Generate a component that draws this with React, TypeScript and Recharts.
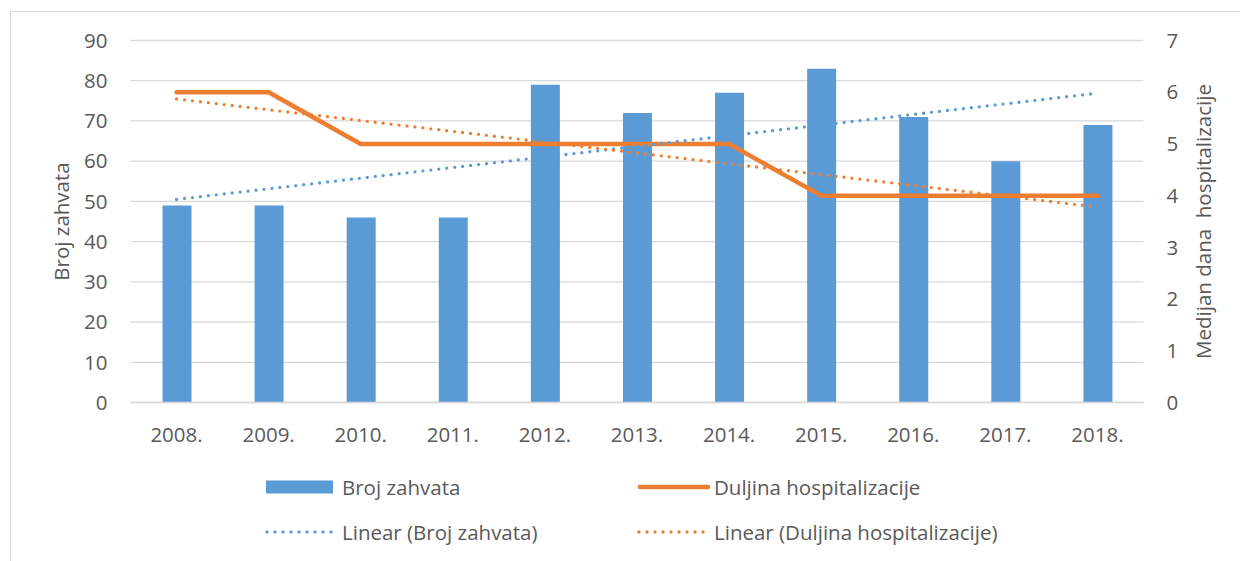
import React from 'react';
import { ComposedChart, Bar, Line, XAxis, YAxis, CartesianGrid, Label } from 'recharts';

// values
const years = ['2008.', '2009.', '2010.', '2011.', '2012.', '2013.', '2014.', '2015.', '2016.', '2017.', '2018.'];
const brojZahvata = [49, 49, 46, 46, 79, 72, 77, 83, 71, 60, 69];
const duljina = [6, 6, 5, 5, 5, 5, 5, 4, 4, 4, 4];
// trend lines: only the two ends are read, the line between them is straight
const linearBroj = [50.5, null, null, null, null, null, null, null, null, null, 76.9];
const linearDuljina = [5.87, null, null, null, null, null, null, null, null, null, 3.78];
const leftTicks = [0, 10, 20, 30, 40, 50, 60, 70, 80, 90];
const rightTicks = [0, 1, 2, 3, 4, 5, 6, 7];

const BLUE = '#5B9BD5';
const ORANGE = '#ED7D31';
const GRID = '#D9D9D9';
const TEXT = '#595959';
const FONT = '"Open Sans", sans-serif';
const FS = 20.5;

const data = years.map((year, i) => ({
  year,
  broj: brojZahvata[i],
  duljina: duljina[i],
  linBroj: linearBroj[i],
  linDuljina: linearDuljina[i],
}));

const tickStyle = { fill: TEXT, fontSize: FS, fontFamily: FONT };

const LeftTitle = ({ viewBox }: any) => {
  const cx = viewBox.x - 9.5;
  const cy = viewBox.y + viewBox.height / 2;
  return (
    <text x={cx} y={cy} transform={`rotate(-90, ${cx}, ${cy})`} textAnchor="middle" dominantBaseline="central"
      fill={TEXT} fontSize={FS} fontFamily={FONT}>Broj zahvata</text>
  );
};

const RightTitle = ({ viewBox }: any) => {
  const cx = viewBox.x + 59.5;
  const cy = viewBox.y + viewBox.height / 2;
  return (
    <text x={cx} y={cy} transform={`rotate(-90, ${cx}, ${cy})`} textAnchor="middle" dominantBaseline="central"
      fill={TEXT} fontSize={FS} fontFamily={FONT} style={{ whiteSpace: 'pre' }}>Medijan dana  hospitalizacije</text>
  );
};

const legendItems = [
  { label: 'Broj zahvata', color: BLUE, kind: 'bar', x: 266, y: 487 },
  { label: 'Duljina hospitalizacije', color: ORANGE, kind: 'line', x: 638, y: 487 },
  { label: 'Linear (Broj zahvata)', color: BLUE, kind: 'dots', x: 266, y: 532 },
  { label: 'Linear (Duljina hospitalizacije)', color: ORANGE, kind: 'dots', x: 638, y: 532 },
];

const ChartLegend = () => (
  <svg width={1240} height={561} style={{ position: 'absolute', left: 0, top: 0, pointerEvents: 'none' }}>
    {legendItems.map((it) => (
      <g key={it.label}>
        {it.kind === 'bar' && <rect x={it.x} y={it.y - 6.5} width={67} height={13} fill={it.color} />}
        {it.kind === 'line' && (
          <line x1={it.x + 2} x2={it.x + 70} y1={it.y} y2={it.y} stroke={it.color} strokeWidth={4.5} strokeLinecap="round" />
        )}
        {it.kind === 'dots' && (
          <line x1={it.x + 1} x2={it.x + 68} y1={it.y} y2={it.y} stroke={it.color} strokeWidth={3.3}
            strokeLinecap="round" strokeDasharray="0 8" />
        )}
        <text x={it.x + 76} y={it.y + 8} fill={TEXT} fontSize={FS} fontFamily={FONT}>{it.label}</text>
      </g>
    ))}
  </svg>
);

const App: React.FC = () => {
  return (
    <div style={{ position: 'absolute', left: 0, top: 0, width: 1240, height: 561, background: '#fff' }}>
      <div style={{ position: 'absolute', left: 10, top: 11, width: 1240, height: 561, borderTop: `1px solid ${GRID}`, borderLeft: `1px solid ${GRID}` }} />
      <ComposedChart
        width={1240}
        height={561}
        data={data}
        margin={{ top: 40.5, right: 36.5, left: 70.5, bottom: 128.5 }}
        style={{ position: 'absolute', left: 0, top: 0 }}
      >
        <CartesianGrid yAxisId="left" vertical={false} stroke={GRID} strokeWidth={1.3} />
        <XAxis dataKey="year" height={30} tick={tickStyle} tickLine={false} tickMargin={19}
          axisLine={{ stroke: GRID, strokeWidth: 1.3 }} interval={0} />
        <YAxis yAxisId="left" width={60} domain={[0, 90]} ticks={leftTicks} tick={tickStyle}
          tickLine={false} axisLine={false} tickMargin={17}>
          <Label content={<LeftTitle />} />
        </YAxis>
        <YAxis yAxisId="right" orientation="right" width={60} domain={[0, 7]} ticks={rightTicks} tick={{ ...tickStyle, textAnchor: 'start' }}
          tickLine={false} axisLine={false} tickMargin={17}>
          <Label content={<RightTitle />} />
        </YAxis>
        <Bar yAxisId="left" dataKey="broj" fill={BLUE} barSize={29} isAnimationActive={false} />
        <Line yAxisId="right" dataKey="duljina" stroke={ORANGE} strokeWidth={4.5} strokeLinecap="round"
          strokeLinejoin="round" dot={false} activeDot={false} isAnimationActive={false} />
        <Line yAxisId="left" dataKey="linBroj" stroke={BLUE} strokeWidth={3.3} strokeLinecap="round"
          strokeDasharray="0 8" dot={false} activeDot={false} connectNulls isAnimationActive={false} />
        <Line yAxisId="right" dataKey="linDuljina" stroke={ORANGE} strokeWidth={3.3} strokeLinecap="round"
          strokeDasharray="0 8" dot={false} activeDot={false} connectNulls isAnimationActive={false} />
      </ComposedChart>
      <ChartLegend />
    </div>
  );
};

export default App;
